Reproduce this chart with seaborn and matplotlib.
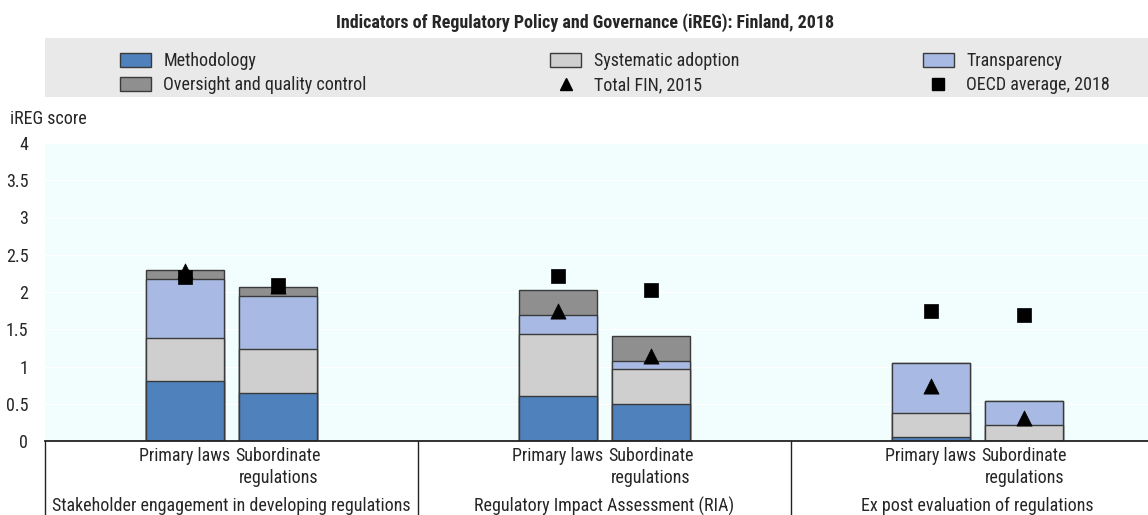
import numpy as np
import matplotlib.pyplot as plt
import seaborn as sns
from matplotlib import font_manager
from matplotlib.patches import Patch, Rectangle
from matplotlib.lines import Line2D

# --- DATA ---
groups = ["Stakeholder engagement in developing regulations",
          "Regulatory Impact Assessment (RIA)",
          "Ex post evaluation of regulations"]
law_types = ["Primary laws", "Subordinate\nregulations"]

methodology = [0.80, 0.64, 0.61, 0.50, 0.06, 0.00]
systematic_adoption = [0.58, 0.59, 0.82, 0.46, 0.31, 0.21]
transparency = [0.80, 0.72, 0.26, 0.11, 0.68, 0.33]
oversight = [0.12, 0.12, 0.34, 0.34, 0.00, 0.00]
total_fin_2015 = [2.28, 2.08, 1.74, 1.14, 0.74, 0.31]
oecd_avg_2018 = [2.20, 2.09, 2.22, 2.03, 1.74, 1.69]

# --- STYLE ---
sns.set_theme(style="white")
available = {f.name for f in font_manager.fontManager.ttflist}
narrow = [f for f in ["Liberation Sans Narrow", "DejaVu Sans Condensed", "Roboto Condensed"] if f in available]
plt.rcParams['font.family'] = narrow + ['Liberation Sans', 'DejaVu Sans']
FS = 13 if narrow else 11.5

COLORS = {
    "Methodology": "#4F81BD",
    "Systematic adoption": "#CFCFCF",
    "Transparency": "#A8B9E4",
    "Oversight and quality control": "#8F8F8F",
}
EDGE = "#3A3A3A"

fig = plt.figure(figsize=(11.48, 5.15), dpi=100)
ax = fig.add_axes([45 / 1148, 1 - 441 / 515, 1 - 45 / 1148, 298 / 515])
ax.set_facecolor("#F2FDFD")

# bar positions: two bars per group
offset = 0.125
xpos = np.array([g + s * offset for g in range(len(groups)) for s in (-1, 1)])

layers = [methodology, systematic_adoption, transparency, oversight]
names = ["Methodology", "Systematic adoption", "Transparency", "Oversight and quality control"]
cum = np.cumsum(np.array(layers), axis=0)

# draw stacked bars from the top layer down
for i in range(len(layers) - 1, -1, -1):
    sns.barplot(x=xpos, y=cum[i], native_scale=True, width=0.836,
                color=COLORS[names[i]], saturation=1, edgecolor=EDGE,
                linewidth=1, errorbar=None, ax=ax)

sns.scatterplot(x=xpos, y=total_fin_2015, marker="^", s=120, color="black",
                edgecolor="black", linewidth=0.5, zorder=5, legend=False, ax=ax)
sns.scatterplot(x=xpos, y=oecd_avg_2018, marker="s", s=105, color="black",
                edgecolor="black", linewidth=0.5, zorder=6, legend=False, ax=ax)

# axes
ax.set_ylim(0, 4)
ax.set_xlim(-0.5, -0.5 + 1103 / 373)
ax.set_yticks(np.arange(0, 4.01, 0.5))
ax.set_yticklabels([f"{v:g}" for v in np.arange(0, 4.01, 0.5)], fontsize=FS)
ax.tick_params(axis="y", length=0, pad=12)
ax.set_xticks([])
ax.set_xlabel("")
ax.set_ylabel("")
ax.yaxis.grid(True, color="white", lw=1)
ax.set_axisbelow(True)
for side in ["top", "right", "left"]:
    ax.spines[side].set_visible(False)
ax.spines["bottom"].set_color("#222222")
ax.spines["bottom"].set_linewidth(1.3)

# category labels below the axis
trans = ax.get_xaxis_transform()
for x, lab in zip(xpos, law_types * len(groups)):
    ax.text(x, -6 / 298, lab, transform=trans, ha="center", va="top",
            fontsize=FS, linespacing=1.3)
for g, lab in enumerate(groups):
    ax.text(g, -56 / 298, lab, transform=trans, ha="center", va="top", fontsize=FS)
for sep in [-0.5, 0.5, 1.5]:
    ax.plot([sep, sep], [0, -0.3], transform=trans, color="#222222", lw=1, clip_on=False)

# title and y label
fig.text(585 / 1148, 1 - 23 / 515, "Indicators of Regulatory Policy and Governance (iREG): Finland, 2018",
         ha="center", va="center", fontsize=FS, fontweight="bold")
fig.text(10 / 1148, 1 - 119 / 515, "iREG score", ha="left", va="center", fontsize=FS)

# legend on grey band
fig.patches.append(Rectangle((45 / 1148, 1 - 97 / 515), 1, 59 / 515,
                             transform=fig.transFigure, facecolor="#E9E9E9",
                             edgecolor="none", zorder=0))
h = {n: Patch(facecolor=COLORS[n], edgecolor=EDGE, linewidth=1) for n in names}
tri = Line2D([], [], marker="^", color="black", linestyle="none", markersize=9)
sq = Line2D([], [], marker="s", color="black", linestyle="none", markersize=9)
handles = [h["Methodology"], h["Oversight and quality control"],
           h["Systematic adoption"], tri, h["Transparency"], sq]
labels = ["Methodology", "Oversight and quality control", "Systematic adoption",
          "Total FIN, 2015", "Transparency", "OECD average, 2018"]
fig.legend(handles, labels, ncol=3, mode="expand", loc="upper left",
           bbox_to_anchor=(120 / 1148, 1 - 52 / 515, 990 / 1148, 0),
           frameon=False, fontsize=FS, handlelength=1.7, handleheight=0.8,
           handletextpad=0.7, labelspacing=0.35, borderpad=0, borderaxespad=0)

fig.savefig("out.png", dpi=100)
